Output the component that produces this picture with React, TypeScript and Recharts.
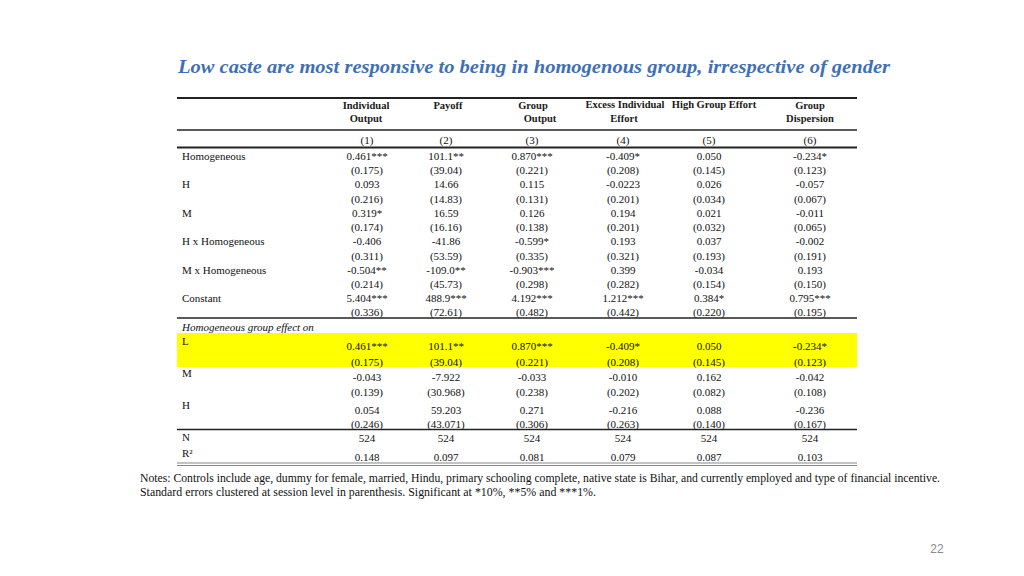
import { ReferenceArea, ReferenceLine, Scatter, ScatterChart, XAxis, YAxis } from "recharts"

// Table content
const title = "Low caste are most responsive to being in homogenous group, irrespective of gender"
const headerTop = ["Individual", "Payoff", "Group", "Excess Individual", "High Group Effort", "Group"]
const headerBottom = ["Output", "", "Output", "Effort", "", "Dispersion"]
const columnNumbers = ["(1)", "(2)", "(3)", "(4)", "(5)", "(6)"]
const regressors = ["Homogeneous", "H", "M", "H x Homogeneous", "M x Homogeneous", "Constant"]
const coefficients = [
  ["0.461***", "101.1**", "0.870***", "-0.409*", "0.050", "-0.234*"],
  ["0.093", "14.66", "0.115", "-0.0223", "0.026", "-0.057"],
  ["0.319*", "16.59", "0.126", "0.194", "0.021", "-0.011"],
  ["-0.406", "-41.86", "-0.599*", "0.193", "0.037", "-0.002"],
  ["-0.504**", "-109.0**", "-0.903***", "0.399", "-0.034", "0.193"],
  ["5.404***", "488.9***", "4.192***", "1.212***", "0.384*", "0.795***"],
]
const standardErrors = [
  ["(0.175)", "(39.04)", "(0.221)", "(0.208)", "(0.145)", "(0.123)"],
  ["(0.216)", "(14.83)", "(0.131)", "(0.201)", "(0.034)", "(0.067)"],
  ["(0.174)", "(16.16)", "(0.138)", "(0.201)", "(0.032)", "(0.065)"],
  ["(0.311)", "(53.59)", "(0.335)", "(0.321)", "(0.193)", "(0.191)"],
  ["(0.214)", "(45.73)", "(0.298)", "(0.282)", "(0.154)", "(0.150)"],
  ["(0.336)", "(72.61)", "(0.482)", "(0.442)", "(0.220)", "(0.195)"],
]
const effectHeading = "Homogeneous group effect on"
const effectGroups = ["L", "M", "H"]
const effectCoefficients = [
  ["0.461***", "101.1**", "0.870***", "-0.409*", "0.050", "-0.234*"],
  ["-0.043", "-7.922", "-0.033", "-0.010", "0.162", "-0.042"],
  ["0.054", "59.203", "0.271", "-0.216", "0.088", "-0.236"],
]
const effectErrors = [
  ["(0.175)", "(39.04)", "(0.221)", "(0.208)", "(0.145)", "(0.123)"],
  ["(0.139)", "(30.968)", "(0.238)", "(0.202)", "(0.082)", "(0.108)"],
  ["(0.246)", "(43.071)", "(0.306)", "(0.263)", "(0.140)", "(0.167)"],
]
const observations = ["524", "524", "524", "524", "524", "524"]
const rSquared = ["0.148", "0.097", "0.081", "0.079", "0.087", "0.103"]
const notes = [
  "Notes: Controls include age, dummy for female, married, Hindu, primary schooling complete, native state is Bihar, and currently employed and type of financial incentive.",
  "Standard errors clustered at session level in parenthesis.  Significant at *10%, **5%  and ***1%.",
]
const pageNumber = "22"

// Layout
const W = 1024
const H = 576
const tableLeft = 177
const tableRight = 857
const labelX = 182
const colX = [367, 446, 532, 623, 709, 810]
const headerTopX = [366, 448, 533, 625, 714, 810]
const headerBottomX = [366, 448, 540, 624, 714, 810]
const rowStart = 156
const rowStep = 28.4
const effectLabelY = [341, 373, 405]
const effectCoefY = [346, 377, 410]
const effectSeY = [362, 392, 424]

const serif = '"Liberation Serif", "Times New Roman", serif'

type Pt = { x: number; y: number; text: string; len?: number }

function textShape(o: { anchor: string; size: number; weight?: string; italic?: boolean; fill?: string; family?: string }) {
  return (props: any) => {
    const { cx, cy, payload } = props
    return (
      <text
        x={cx}
        y={cy}
        textAnchor={o.anchor}
        dominantBaseline="central"
        fontFamily={o.family || serif}
        fontSize={o.size}
        fontWeight={o.weight || "normal"}
        fontStyle={o.italic ? "italic" : "normal"}
        fill={o.fill || "#111"}
        textLength={payload.len}
        lengthAdjust={payload.len ? "spacingAndGlyphs" : undefined}
      >
        {payload.text}
      </text>
    )
  }
}

const rowOf = (vals: string[], y: number): Pt[] => vals.map((t, i) => ({ x: colX[i], y, text: t }))

const headerPts: Pt[] = [
  ...headerTop.map((t, i) => ({ x: headerTopX[i], y: i === 3 || i === 4 ? 104 : 105, text: t })),
  ...headerBottom.map((t, i) => ({ x: headerBottomX[i], y: 118.5, text: t })).filter((p) => p.text),
]

const valuePts: Pt[] = [
  ...columnNumbers.map((t, i) => ({ x: colX[i], y: 139.5, text: t })),
  ...coefficients.flatMap((r, j) => rowOf(r, rowStart + j * rowStep)),
  ...standardErrors.flatMap((r, j) => rowOf(r, rowStart + j * rowStep + 14.3)),
  ...effectCoefficients.flatMap((r, j) => rowOf(r, effectCoefY[j])),
  ...effectErrors.flatMap((r, j) => rowOf(r, effectSeY[j])),
  ...rowOf(observations, 437.5),
  ...rowOf(rSquared, 456.5),
]

const labelPts: Pt[] = [
  ...regressors.map((t, j) => ({ x: labelX, y: rowStart + j * rowStep, text: t })),
  ...effectGroups.map((t, j) => ({ x: labelX, y: effectLabelY[j], text: t })),
  { x: labelX, y: 437, text: "N" },
  { x: labelX, y: 453, text: "R²" },
]

const titlePts: Pt[] = [{ x: 534, y: 66, text: title, len: 712 }]
const notePts: Pt[] = [
  { x: 140, y: 478, text: notes[0], len: 800 },
  { x: 140, y: 492, text: notes[1], len: 456 },
]

const rules = [
  { y: 98, w: 2, c: "#222" },
  { y: 130, w: 1.3, c: "#222" },
  { y: 147.5, w: 2, c: "#222" },
  { y: 318, w: 1.3, c: "#222" },
  { y: 429.5, w: 1.3, c: "#222" },
  { y: 463, w: 1.2, c: "#888" },
  { y: 465.5, w: 1.2, c: "#888" },
]

export default function App() {
  return (
    <div style={{ position: "absolute", left: 0, top: 0, background: "#fff" }}>
      <ScatterChart width={W} height={H} margin={{ top: 0, right: 0, bottom: 0, left: 0 }}>
        <XAxis type="number" dataKey="x" domain={[0, W]} hide />
        <YAxis type="number" dataKey="y" domain={[0, H]} reversed hide />
        <ReferenceArea x1={tableLeft} x2={tableRight} y1={333} y2={367} fill="#FFFF00" fillOpacity={1} stroke="none" />
        {rules.map((r, i) => (
          <ReferenceLine
            key={i}
            segment={[{ x: tableLeft, y: r.y }, { x: tableRight, y: r.y }]}
            stroke={r.c}
            strokeWidth={r.w}
          />
        ))}
        <Scatter data={titlePts} isAnimationActive={false} shape={textShape({ anchor: "middle", size: 19, weight: "bold", italic: true, fill: "#3F70B5" })} />
        <Scatter data={headerPts} isAnimationActive={false} shape={textShape({ anchor: "middle", size: 10.5, weight: "bold", fill: "#1a1a1a" })} />
        <Scatter data={valuePts} isAnimationActive={false} shape={textShape({ anchor: "middle", size: 11 })} />
        <Scatter data={labelPts} isAnimationActive={false} shape={textShape({ anchor: "start", size: 11 })} />
        <Scatter
          data={[{ x: labelX, y: 326.5, text: effectHeading }]}
          isAnimationActive={false}
          shape={textShape({ anchor: "start", size: 11, italic: true })}
        />
        <Scatter data={notePts} isAnimationActive={false} shape={textShape({ anchor: "start", size: 11.5 })} />
        <Scatter
          data={[{ x: 937, y: 549, text: pageNumber }]}
          isAnimationActive={false}
          shape={textShape({ anchor: "middle", size: 12, fill: "#8a8a8a", family: '"Liberation Sans", Arial, sans-serif' })}
        />
      </ScatterChart>
    </div>
  )
}
